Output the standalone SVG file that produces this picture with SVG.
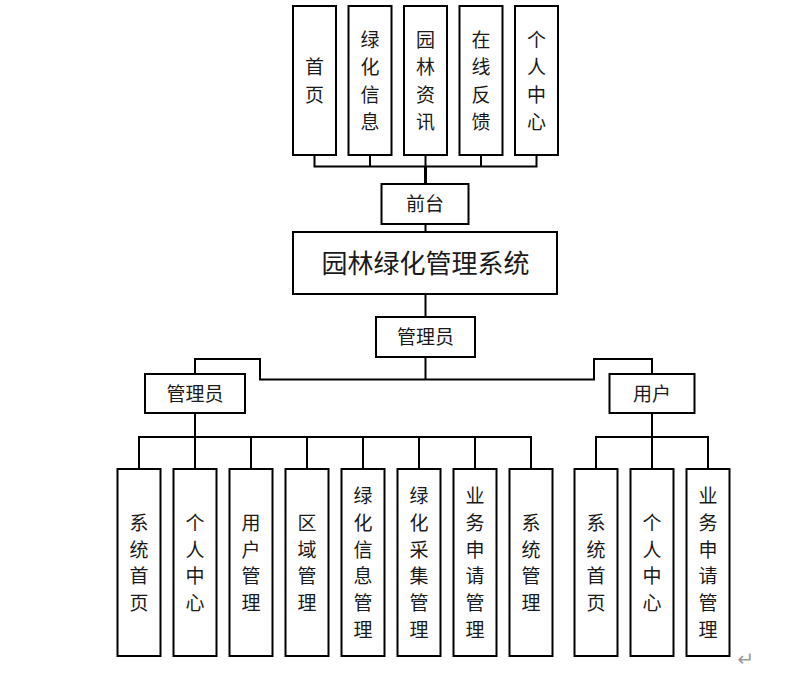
<svg xmlns="http://www.w3.org/2000/svg" width="797" height="681" viewBox="0 0 797 681">
<style>
.box{fill:#fff;stroke:#000;stroke-width:2}
.t{font-family:"Noto Sans CJK SC","Noto Sans",sans-serif;font-size:19px;fill:#1a1a1a;text-anchor:middle;dominant-baseline:central;transform:translateY(-1.5px)}
.big{font-size:26px}
.conn{fill:none;stroke:#000;stroke-width:2}
</style>
<rect width="797" height="681" fill="#fff"/>
<g id="connectors">
<path class="conn" d="M314.5 155V166.5M370 155V166.5M425.5 155V166.5M481 155V166.5M536.5 155V166.5M313.5 166.5H537.5"/>
<path class="conn" style="stroke-width:3" d="M425.5 166.5V184"/>
<path class="conn" d="M425.5 224V232M425.5 294V317M425.5 357V379.5"/>
<path class="conn" d="M195 374V359H260V379.5H594V359H652V374"/>
<path class="conn" d="M195 413V437M138 437H532M139 437V469M195 437V469M251 437V469M307 437V469M363 437V469M419 437V469M475 437V469M531 437V469"/>
<path class="conn" d="M652 413V437M595 437H709M596 437V469M652 437V469M708 437V469"/>
</g>
<g id="n-shouye"><rect class="box" x="293" y="6" width="43" height="149"/><text class="t"><tspan x="314.5" y="66.8">首</tspan><tspan x="314.5" y="94.2">页</tspan></text></g>
<g id="n-lvhuaxinxi"><rect class="box" x="348.5" y="6" width="43" height="149"/><text class="t"><tspan x="370" y="39.5">绿</tspan><tspan x="370" y="66.8">化</tspan><tspan x="370" y="94.2">信</tspan><tspan x="370" y="121.5">息</tspan></text></g>
<g id="n-yuanlinzixun"><rect class="box" x="404" y="6" width="43" height="149"/><text class="t"><tspan x="425.5" y="39.5">园</tspan><tspan x="425.5" y="66.8">林</tspan><tspan x="425.5" y="94.2">资</tspan><tspan x="425.5" y="121.5">讯</tspan></text></g>
<g id="n-zaixianfankui"><rect class="box" x="459.5" y="6" width="43" height="149"/><text class="t"><tspan x="481" y="39.5">在</tspan><tspan x="481" y="66.8">线</tspan><tspan x="481" y="94.2">反</tspan><tspan x="481" y="121.5">馈</tspan></text></g>
<g id="n-gerenzhongxin-top"><rect class="box" x="515" y="6" width="43" height="149"/><text class="t"><tspan x="536.5" y="39.5">个</tspan><tspan x="536.5" y="66.8">人</tspan><tspan x="536.5" y="94.2">中</tspan><tspan x="536.5" y="121.5">心</tspan></text></g>
<g id="n-qiantai"><rect class="box" x="381.5" y="184" width="87" height="40"/><text class="t" x="425" y="204">前台</text></g>
<g id="n-system"><rect class="box" x="293" y="232" width="264" height="62"/><text class="t big" x="425.5" y="263">园林绿化管理系统</text></g>
<g id="n-admin-mid"><rect class="box" x="376" y="317" width="99" height="40"/><text class="t" x="425.5" y="337">管理员</text></g>
<g id="n-admin"><rect class="box" x="145" y="374" width="100" height="39"/><text class="t" x="195" y="393.5">管理员</text></g>
<g id="n-user"><rect class="box" x="609.5" y="374" width="85" height="39"/><text class="t" x="652" y="393.5">用户</text></g>
<g id="n-a-xitongshouye"><rect class="box" x="117.5" y="469" width="43" height="187"/><text class="t"><tspan x="139" y="522.5">系</tspan><tspan x="139" y="549.2">统</tspan><tspan x="139" y="575.8">首</tspan><tspan x="139" y="602.5">页</tspan></text></g>
<g id="n-a-gerenzhongxin"><rect class="box" x="173.5" y="469" width="43" height="187"/><text class="t"><tspan x="195" y="522.5">个</tspan><tspan x="195" y="549.2">人</tspan><tspan x="195" y="575.8">中</tspan><tspan x="195" y="602.5">心</tspan></text></g>
<g id="n-a-yonghuguanli"><rect class="box" x="229.5" y="469" width="43" height="187"/><text class="t"><tspan x="251" y="522.5">用</tspan><tspan x="251" y="549.2">户</tspan><tspan x="251" y="575.8">管</tspan><tspan x="251" y="602.5">理</tspan></text></g>
<g id="n-a-quyuguanli"><rect class="box" x="285.5" y="469" width="43" height="187"/><text class="t"><tspan x="307" y="522.5">区</tspan><tspan x="307" y="549.2">域</tspan><tspan x="307" y="575.8">管</tspan><tspan x="307" y="602.5">理</tspan></text></g>
<g id="n-a-lvhuaxinxiguanli"><rect class="box" x="341.5" y="469" width="43" height="187"/><text class="t"><tspan x="363" y="495.8">绿</tspan><tspan x="363" y="522.5">化</tspan><tspan x="363" y="549.2">信</tspan><tspan x="363" y="575.8">息</tspan><tspan x="363" y="602.5">管</tspan><tspan x="363" y="629.2">理</tspan></text></g>
<g id="n-a-lvhuacaijiguanli"><rect class="box" x="397.5" y="469" width="43" height="187"/><text class="t"><tspan x="419" y="495.8">绿</tspan><tspan x="419" y="522.5">化</tspan><tspan x="419" y="549.2">采</tspan><tspan x="419" y="575.8">集</tspan><tspan x="419" y="602.5">管</tspan><tspan x="419" y="629.2">理</tspan></text></g>
<g id="n-a-yewushenqingguanli"><rect class="box" x="453.5" y="469" width="43" height="187"/><text class="t"><tspan x="475" y="495.8">业</tspan><tspan x="475" y="522.5">务</tspan><tspan x="475" y="549.2">申</tspan><tspan x="475" y="575.8">请</tspan><tspan x="475" y="602.5">管</tspan><tspan x="475" y="629.2">理</tspan></text></g>
<g id="n-a-xitongguanli"><rect class="box" x="509.5" y="469" width="43" height="187"/><text class="t"><tspan x="531" y="522.5">系</tspan><tspan x="531" y="549.2">统</tspan><tspan x="531" y="575.8">管</tspan><tspan x="531" y="602.5">理</tspan></text></g>
<g id="n-u-xitongshouye"><rect class="box" x="574.5" y="469" width="43" height="187"/><text class="t"><tspan x="596" y="522.5">系</tspan><tspan x="596" y="549.2">统</tspan><tspan x="596" y="575.8">首</tspan><tspan x="596" y="602.5">页</tspan></text></g>
<g id="n-u-gerenzhongxin"><rect class="box" x="630.5" y="469" width="43" height="187"/><text class="t"><tspan x="652" y="522.5">个</tspan><tspan x="652" y="549.2">人</tspan><tspan x="652" y="575.8">中</tspan><tspan x="652" y="602.5">心</tspan></text></g>
<g id="n-u-yewushenqingguanli"><rect class="box" x="686.5" y="469" width="43" height="187"/><text class="t"><tspan x="708" y="495.8">业</tspan><tspan x="708" y="522.5">务</tspan><tspan x="708" y="549.2">申</tspan><tspan x="708" y="575.8">请</tspan><tspan x="708" y="602.5">管</tspan><tspan x="708" y="629.2">理</tspan></text></g>
<text x="746" y="658.5" font-family="DejaVu Sans,sans-serif" font-size="20" fill="#9a9a9a" text-anchor="middle" dominant-baseline="central">↵</text>
</svg>
